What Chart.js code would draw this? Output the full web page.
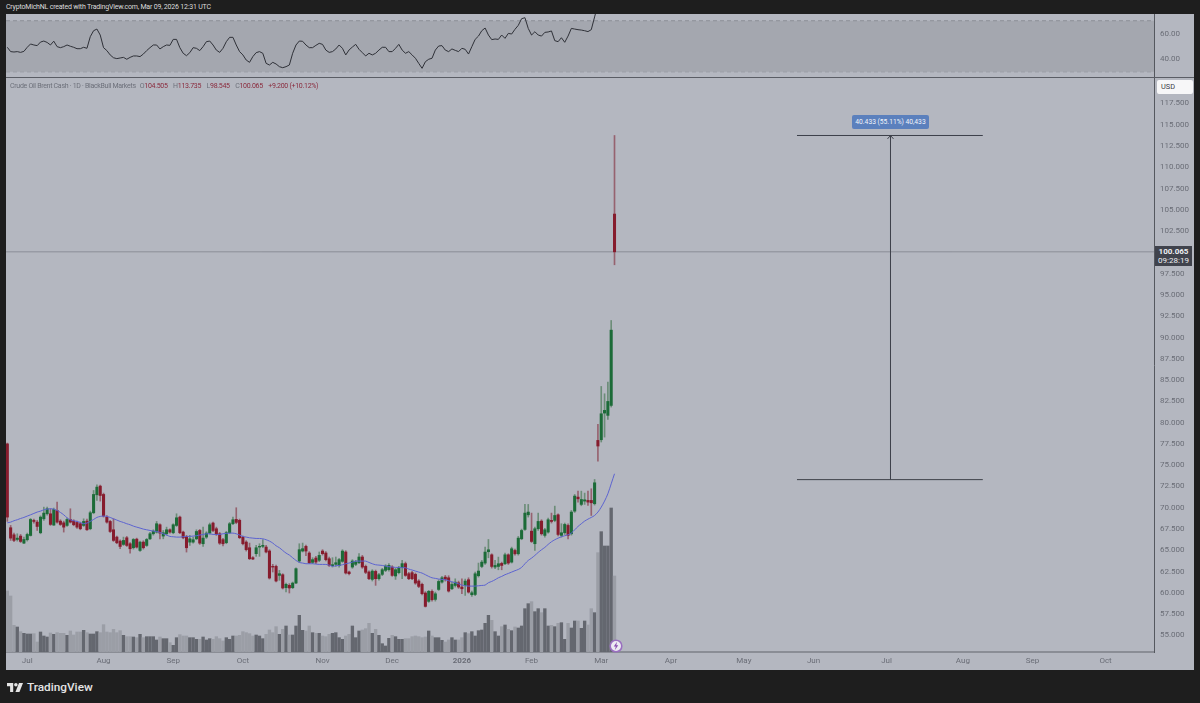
<!DOCTYPE html>
<html>
<head>
<meta charset="utf-8">
<title>Crude Oil Brent Cash</title>
<script src="https://cdn.jsdelivr.net/npm/chart.js@4/dist/chart.umd.min.js"></script>
<style>
html, body { margin: 0; padding: 0; width: 1200px; height: 703px; background: #1e1e1e; overflow: hidden; font-family: Roboto, sans-serif; }
#panel { position: absolute; left: 6px; top: 14px; width: 1188px; height: 656px; background: #b4b7c0; }
#sep { position: absolute; left: 6px; top: 77px; width: 1188px; height: 1px; background: #5a5d65; }
canvas { position: absolute; }
#rsiChart { left: 6px; top: 14px; }
#mainChart { left: 6px; top: 78px; }
.label { position: absolute; white-space: nowrap; }
#header { left: 6px; top: 2px; font-size: 7px; letter-spacing: -0.2px; line-height: 10px; color: #dcdcdc; }
#legend { left: 10px; top: 81px; font-size: 7px; letter-spacing: -0.3px; line-height: 10px; color: #6d707a; }
#legend b { font-weight: 400; color: #8a2b3d; }
#legend span { margin-left: 4px; }
#usd { left: 1157px; top: 80px; width: 32px; padding-left: 4px; height: 14px; line-height: 14px; background: #f7f7f8; border-radius: 2px; font-size: 7.4px; color: #3a3c44; }
#lastPrice { left: 1155px; top: 246px; width: 37px; height: 20px; background: #40434d; color: #eef0f3; font-size: 8px; line-height: 9.4px; text-align: center; padding-top: 1px; box-sizing: border-box; }
#lastPrice b { font-weight: 700; }
#measure { left: 852px; top: 115px; width: 77px; height: 14px; line-height: 14px; background: #5b80bd; border-radius: 2px; color: #f1f4fa; font-size: 6.7px; text-align: center; }
#brand { left: 27px; top: 677.5px; font-size: 11.8px; line-height: 18px; font-weight: 500; color: #e4e4e4; }
#logo { position: absolute; left: 7px; top: 682.5px; }
#flash { position: absolute; left: 609px; top: 639px; }
</style>
</head>
<body>
<div id="panel"></div>
<canvas id="rsiChart" width="1188" height="63"></canvas>
<div id="sep"></div>
<canvas id="mainChart" width="1188" height="592"></canvas>
<div class="label" id="header">CryptoMichNL created with TradingView.com, Mar 09, 2026 12:31 UTC</div>
<div class="label" id="legend">Crude Oil Brent Cash · 1D · BlackBull Markets<span>O<b>104.505</b></span> <span>H<b>113.735</b></span> <span>L<b>98.545</b></span> <span>C<b>100.065</b></span> <span><b>+9.200 (+10.12%)</b></span></div>
<div class="label" id="usd">USD</div>
<div class="label" id="lastPrice"><b>100.065</b><br>09:28:19</div>
<div class="label" id="measure">40.433 (55.11%) 40,433</div>
<svg id="logo" width="16" height="9" viewBox="0 0 36 20"><path fill="#e4e4e4" d="M0 0h14v20H7V7H0z"/><circle fill="#e4e4e4" cx="20" cy="4" r="4"/><path fill="#e4e4e4" d="M27 0h9l-8 20h-9z"/></svg>
<div class="label" id="brand">TradingView</div>
<svg id="flash" width="14" height="14" viewBox="0 0 14 14"><circle cx="7" cy="7" r="5.8" fill="#eceaf2" stroke="#9a6fc0" stroke-width="1.6"/><path d="M8 2.8 4.8 7.6h2l-1 3.6 3.4-5H7.3z" fill="#8a4db0"/></svg>

<script>
// daily bars, oldest first
var opens = [
    77.5,67.65,66.82,66.27,66.67,65.84,66.24,66.74,68.51,68.31,
    67.06,68.7,69.29,69.29,67.96,69.68,68.43,68.23,67.92,68.62,
    68.43,68.27,68.12,67.92,68.43,67.53,69.41,71.52,72.54,71.56,
    68.9,68.39,67.41,66.55,66.08,65.69,66.47,65.77,65.3,66.31,
    64.98,65.96,65.57,66.35,66.94,67.14,68,66.67,66.94,67.41,
    67.06,67.92,68.9,67.14,66.63,65.96,65.96,66.35,67.33,65.77,
    66.55,67.02,68.2,67.53,66.94,66.25,65.89,67.07,68.12,68.63,
    68.52,66.56,65.97,65.3,64.13,64.6,65.38,65.46,65.38,64.92,
    63.11,63.11,62.05,62.13,60.61,60.88,60.61,61.15,63.74,64.91,
    65.46,64.68,63.58,64.09,63.82,64.91,64.68,64.01,63.19,63.35,
    63.19,63.7,64.8,62.45,63.03,63.35,63.54,64.21,63.11,62.45,
    61.58,62.52,61.66,62.17,62.64,62.72,63.03,61.98,62.37,62.96,
    63.43,62.25,62.37,62.17,61.39,61,59.98,59,60.17,59.23,
    60.4,61.26,61.85,61.77,60.48,60.87,61.18,60.68,60.87,61.54,
    59.78,59.81,62.01,63.1,63.5,64.83,64.47,63.03,63.1,63.46,
    63.42,64.47,63.61,64.98,64.59,66.35,67.45,69.17,67.25,65.77,
    67.53,68.43,66.75,67.14,68.51,68.51,69.17,66.75,67.06,67.92,
    66.94,69.6,71.25,70.39,70.78,70.86,70.86,70.47,
    77.91,77.99,81.12,80.85,82.02,104.505
];
var highs = [
    77.6,67.92,67.02,66.94,66.86,66.55,67.02,68.74,68.66,68.51,
    69.05,70.07,70.07,69.88,69.96,70.66,68.59,68.43,68.78,69.88,
    68.59,68.43,68.31,68.7,68.66,69.6,72.03,72.7,72.66,71.72,
    69.09,68.51,68.7,66.67,66.24,66.55,66.63,65.92,66.39,66.43,
    66.08,66.12,66.39,67.1,67.41,68.39,68.12,67.33,67.72,67.53,
    68.12,69.29,69.02,67.25,66.75,66.75,66.55,67.41,67.45,67.72,
    67.18,68.2,68.31,67.72,67.1,66.4,67.22,68.28,68.91,70,
    68.67,66.67,66.13,65.85,64.25,65.58,65.77,66.25,65.58,65.07,
    63.35,63.27,62.64,62.25,61.15,61.08,61.27,62.95,65.77,65.85,
    65.62,64.84,64.13,64.29,64.8,65.07,64.84,64.21,64.13,64.21,
    64.05,65.07,64.95,62.56,63.9,63.82,64.6,64.4,63.27,62.6,
    62.72,62.68,62.29,62.88,63.31,63.43,63.19,62.88,63.11,63.82,
    63.62,62.41,62.52,62.33,61.55,61.15,60.14,60.29,60.36,60.09,
    61.54,61.93,62.05,62.01,61.26,61.65,61.38,61.65,61.62,61.77,
    60.21,62.44,63.5,63.81,65.37,66.27,64.59,63.81,64.2,63.61,
    64.67,64.59,65.37,65.14,66.63,67.49,70.39,70.39,69.37,67.72,
    69.37,68.59,67.57,68.78,69.37,70.19,69.29,68.12,68.2,68.12,
    69.68,71.56,71.95,71.95,71.72,71.95,72.23,73.32,
    79.79,84.25,83.39,84.76,92,113.735
];
var lows = [
    68.4,66.16,66,66.08,65.92,65.77,66.08,66.67,68.2,67.33,
    66.94,68.51,69.13,67.92,67.92,68.2,67.92,67.14,67.8,68.2,
    67.88,67.57,67.41,67.8,67.33,67.41,69.29,70.86,70.78,68.9,
    68.2,67.09,66.04,65.77,65.18,65.57,65.45,64.67,65.14,65.26,
    64.87,65.14,65.45,66.24,66.78,67.02,66.35,66.35,66.78,67.02,
    66.94,67.8,66.94,66.35,64.79,65.57,65.84,66.24,65.69,65.45,
    66.39,66.9,67.18,66.75,65.69,65.5,65.77,66.95,68,68.12,
    66.36,65.62,64.91,63.9,63.9,64.29,64.29,65.3,64.68,61.62,
    62.45,61.27,61.47,60.45,60.1,59.98,60.49,61.08,63.58,64.8,
    64.36,63.43,63.43,63.43,63.66,64.44,63.74,63.11,63.03,63.11,
    63.03,63.58,62.21,62.1,62.88,63.19,63.43,62.88,62.25,61.55,
    61.39,60.88,61.5,62.02,62.49,62.56,61.94,61.58,62.21,61.66,
    61.94,61.55,61.55,61,60.61,59.75,58.33,58.88,59.03,59.03,
    60.28,61.15,61.38,60.09,60.36,60.68,60.52,59.89,59.7,59.97,
    59.58,59.66,61.85,62.95,63.34,64.12,62.91,62.83,62.71,62.71,
    63.3,63.34,63.5,64.43,64.43,66.24,67.33,68.9,65.92,64.98,
    67.33,66.78,66.55,67.02,68.2,68.35,66.7,66.55,66.86,66.35,
    66.78,69.45,70.66,70.23,70.39,70.27,69.09,70.31,
    75.48,77.72,78.3,80.38,81.83,98.545
];
var closes = [
    68.9,66.43,66.16,66.43,66.04,66.27,66.86,68.62,68.39,67.8,
    68.9,69.37,69.88,68.04,69.8,68.31,68.04,67.72,68.62,68.31,
    68,67.72,67.53,68.39,67.41,69.41,71.56,72.42,71.44,69.02,
    68.31,67.21,66.16,65.88,65.45,66.16,65.57,65.18,66.27,65.37,
    65.96,65.3,66.27,66.94,67.25,68.12,67.02,67.06,67.41,67.14,
    68,68.82,67.06,66.47,65.3,66.35,66.24,67.21,65.84,66.43,
    67.02,68,67.33,66.86,65.84,65.77,67.07,68.12,68.59,68.28,
    66.48,65.77,65.07,64.01,63.97,65.3,65.46,65.58,64.8,61.74,
    63.03,61.39,62.25,60.57,61,60.57,61.15,62.84,65.07,65.19,
    64.91,63.54,63.9,63.62,64.4,64.6,63.9,63.23,63.31,63.54,
    63.9,64.91,62.33,62.25,63.74,63.62,64.21,63.03,62.41,61.66,
    62.56,61.66,62.13,62.72,63.15,63.23,62.05,62.72,62.96,63.43,
    62.05,61.66,61.66,61.15,60.76,59.9,58.41,60.18,59.19,59.89,
    61.34,61.77,61.58,60.21,60.99,61.26,60.68,60.48,61.38,60.09,
    60.01,62.24,62.56,63.61,64.79,65.06,63.1,63.22,63.42,63.22,
    64.47,63.5,65.18,64.59,66.43,67.33,69.37,69.49,66.04,67.53,
    68.39,66.94,67.41,68.59,68.39,69.09,66.86,67.06,68.04,66.75,
    69.49,71.37,71.05,70.97,70.93,70.66,70.58,72.93,
    77.25,81.04,81.44,82.49,90.865,100.065
];
var volumes = [
    183,168,80,75,61,56,54,54,55,30,
    60,48,45,57,53,58,56,56,50,63,
    51,60,60,65,58,54,54,61,58,82,
    60,58,68,58,64,50,46,46,45,43,
    53,43,46,46,46,36,45,40,40,28,
    20,43,52,48,48,43,43,38,38,45,
    36,40,38,46,40,33,43,38,48,48,
    50,61,58,55,48,51,48,40,53,66,
    58,76,53,68,78,51,51,78,110,65,
    63,78,58,56,56,48,46,53,56,58,
    43,38,48,53,78,43,63,66,70,86,
    56,68,50,25,18,41,50,46,38,38,
    40,40,46,48,46,43,45,63,48,43,
    43,35,30,36,43,36,36,43,58,55,
    61,48,64,66,86,110,95,61,48,76,
    81,68,64,75,72,78,130,145,151,121,
    130,118,130,78,80,76,86,88,38,86,
    72,93,93,71,93,81,130,118,
    298,361,318,318,432,228
];
var maValues = [
    68.23,68.31,68.47,68.59,68.74,68.86,69.02,69.17,69.33,69.49,
    69.6,69.76,69.84,69.88,69.84,69.68,69.45,69.17,68.82,68.59,
    68.47,68.39,68.27,68.12,68.2,68.39,68.62,68.86,68.98,69.02,
    68.98,68.86,68.7,68.55,68.39,68.27,68.12,68,67.84,67.72,
    67.61,67.49,67.41,67.33,67.25,67.21,67.1,66.94,66.79,66.63,
    66.59,66.55,66.55,66.59,66.63,66.63,66.67,66.71,66.79,66.86,
    66.94,66.94,66.86,66.86,66.86,66.94,66.98,67.02,67.02,66.94,
    66.79,66.63,66.55,66.47,66.43,66.39,66.39,66.35,66.24,66.08,
    65.85,65.53,65.3,64.98,64.67,64.44,64.12,63.81,63.57,63.5,
    63.42,63.42,63.42,63.38,63.34,63.34,63.34,63.26,63.11,63.18,
    63.22,63.3,63.42,63.5,63.61,63.73,63.73,63.73,63.73,63.57,
    63.42,63.3,63.26,63.22,63.14,63.07,63.03,62.99,62.99,62.95,
    62.95,62.79,62.68,62.56,62.44,62.32,62.13,61.93,61.77,61.7,
    61.62,61.58,61.54,61.42,61.3,61.19,61.07,60.91,60.83,60.79,
    60.79,60.79,60.83,60.87,60.91,61.19,61.34,61.54,61.77,61.93,
    62.13,62.28,62.44,62.6,62.75,62.99,63.42,63.81,64.08,64.4,
    64.75,65.06,65.34,65.69,66,66.24,66.43,66.59,66.71,66.82,
    67.02,67.41,67.8,68.12,68.43,68.66,68.86,69.09,69.49,70.07,
    70.78,71.64,72.81,73.99
];
var rsiValues = [
    49.2,45.8,45.5,45.8,45.2,46,49.2,51.8,51,50.5,
    53.3,54.1,53,51,54,49.7,48.9,49.7,51,50,
    49.2,48.1,48.1,49.2,48.4,57.5,62.2,63.5,58.8,48.9,
    46.6,43.2,41,40.3,40.8,41.3,39.8,41.3,42.4,42.4,
    41.9,43.9,46.6,48.9,51,51,47.9,49.7,51,50.7,
    55.4,55.4,48.9,44.5,42.6,45,48.9,48.4,46.6,49.7,
    53.6,54.1,51,47,45.2,48.4,53.6,57,57,51,
    45.8,43.2,39.2,37.4,41.9,45,45.8,44.5,36.6,35.3,
    37.4,36.1,34,33.2,34,35.3,44.5,51,54.1,53.9,
    51,48.9,48.9,50.7,52.3,51.5,47,45.2,45.8,47.9,
    51,48.4,43.2,47.1,49.4,51.5,47.6,45,42.4,44.5,
    43.2,44.5,47,49.2,49.2,45.8,45.8,48.4,51.5,47,
    44.5,45.8,43.2,40.6,36.6,32.7,37.9,39.8,40.6,47,
    50.2,50.5,47,45.8,47.9,46.8,45.8,48.4,47.6,43.9,
    49.7,55.4,58,62.2,64.3,58.8,55.2,55.7,55.4,58.8,
    56.2,60.1,59.6,63.3,66.4,71.6,72.4,64,58.8,61.4,
    58.8,58,60.9,61.2,62,54.4,53.6,56.7,53.1,58,
    64,63.5,63,62.7,62.2,61.5,63,73,83,80,
    78,82,86,80
];

var priceTicks = [55,57.5,60,62.5,65,67.5,70,72.5,75,77.5,80,82.5,85,87.5,90,92.5,95,97.5,100,102.5,105,107.5,110,112.5,115,117.5];
var rsiTicks = [40,60];
var rsiBands = [70,50,30];
var monthLabels = ["Jul","Aug","Sep","Oct","Nov","Dec","2026","Feb","Mar","Apr","May","Jun","Jul","Aug","Sep","Oct"];
var monthBars = [6,29,50,71,95,116,137,158,179,200,222,243,265,288,309,331];

// price range tool, x in bars
var measureLow = 73.302;
var measureHigh = 113.735;
var measureBars = [238,266.18,294];
var lastClose = 100.065;

const X_MIN = -0.4;
const X_MAX = 345.6;
const AXIS_WIDTH = 40;
const AXIS_COLOR = "#6a6d76";
const LINE_COLOR = "#55585f";
const DARK_LINE = "#3d4049";
const TICK_FONT = {family: "Roboto", size: 8};

Chart.defaults.font.family = "Roboto";

function isDown(i){
    return closes[i] < opens[i];
}

function bodyData(){
    return opens.map(function(o, i){
        return {x: i, y: [o, closes[i]]};
    });
}

function wickData(){
    return lows.map(function(l, i){
        return {x: i, y: [l, highs[i]]};
    });
}

function lineData(values){
    return values.map(function(v, i){
        return {x: i, y: v};
    });
}

// tick padding would otherwise push the plot in from the canvas edges
function fitYAxis(scale){
    scale.width = AXIS_WIDTH;
    scale.paddingTop = 0;
    scale.paddingBottom = 0;
}

function fitXAxis(scale){
    scale.height = 18;
    scale.paddingLeft = 0;
    scale.paddingRight = 0;
}

function drawMainChart(){
    const CHART = document.getElementById("mainChart");
    new Chart(CHART, {
        data: {
            datasets: [
                {
                    type: "bar", order: 6, yAxisID: "yVol", grouped: false, barThickness: 2.7, borderWidth: 0,
                    data: lineData(volumes),
                    backgroundColor: opens.map(function(o, i){ return isDown(i) ? "#9b9ea6" : "#64676f"; })
                },
                {
                    type: "bar", order: 4, grouped: false, barThickness: 1, borderWidth: 0,
                    data: wickData(),
                    backgroundColor: opens.map(function(o, i){ return isDown(i) ? "#96626f" : "#6c8d78"; })
                },
                {
                    type: "bar", order: 3, grouped: false, barThickness: 2.4, borderWidth: 0,
                    data: bodyData(),
                    backgroundColor: opens.map(function(o, i){ return isDown(i) ? "#861c2d" : "#1c6b38"; })
                },
                {
                    type: "line", order: 2, data: lineData(maValues),
                    borderColor: "#5c63d0", borderWidth: 1, pointRadius: 0, tension: 0.3
                },
                {
                    type: "line", order: 5,
                    data: [{x: X_MIN, y: lastClose}, {x: X_MAX, y: lastClose}],
                    borderColor: "#8b8e97", borderWidth: 1, pointRadius: 0
                },
                {
                    type: "line", order: 1,
                    data: [{x: measureBars[0], y: measureHigh}, {x: measureBars[2], y: measureHigh}],
                    borderColor: DARK_LINE, borderWidth: 1, pointRadius: 0
                },
                {
                    type: "line", order: 1,
                    data: [{x: measureBars[0], y: measureLow}, {x: measureBars[2], y: measureLow}],
                    borderColor: DARK_LINE, borderWidth: 1, pointRadius: 0
                },
                {
                    type: "line", order: 1,
                    data: [{x: measureBars[1], y: measureLow}, {x: measureBars[1], y: measureHigh}],
                    borderColor: DARK_LINE, borderWidth: 1, pointRadius: 0
                },
                {
                    // arrow head
                    type: "line", order: 1,
                    data: [
                        {x: measureBars[1] - 0.9, y: measureHigh - 0.4},
                        {x: measureBars[1], y: measureHigh},
                        {x: measureBars[1] + 0.9, y: measureHigh - 0.4}
                    ],
                    borderColor: DARK_LINE, borderWidth: 1, pointRadius: 0
                }
            ]
        },
        options: {
            responsive: false,
            animation: false,
            events: [],
            layout: {padding: 0},
            plugins: {legend: {display: false}, tooltip: {enabled: false}},
            scales: {
                x: {
                    type: "linear", min: X_MIN, max: X_MAX, offset: false,
                    grid: {display: false, drawTicks: false, offset: false},
                    border: {color: "#8a8d95", width: 2},
                    afterBuildTicks: function(scale){
                        scale.ticks = monthBars.map(function(v){ return {value: v}; });
                    },
                    afterFit: fitXAxis,
                    ticks: {
                        autoSkip: false, maxRotation: 0, padding: 4, color: AXIS_COLOR,
                        font: function(ctx){
                            return ctx.tick && ctx.tick.value === 137
                                ? {family: "Roboto", size: 8, weight: "700"}
                                : TICK_FONT;
                        },
                        callback: function(value){
                            return monthLabels[monthBars.indexOf(value)];
                        }
                    }
                },
                y: {
                    position: "right", min: 53.05, max: 120.49,
                    grid: {display: false, drawTicks: false},
                    border: {color: LINE_COLOR, width: 1},
                    afterBuildTicks: function(scale){
                        scale.ticks = priceTicks.map(function(v){ return {value: v}; });
                    },
                    afterFit: fitYAxis,
                    ticks: {
                        padding: 6, color: AXIS_COLOR, font: TICK_FONT,
                        callback: function(value){ return value.toFixed(3); }
                    }
                },
                yVol: {display: false, min: 0, max: 1722}
            }
        }
    });
}

function drawRsiChart(){
    const CHART = document.getElementById("rsiChart");
    var datasets = [
        {
            type: "line", data: lineData(rsiValues),
            borderColor: "#2f3138", borderWidth: 1, pointRadius: 0, tension: 0
        },
        {
            // shaded band between the upper and lower limits
            type: "line",
            data: [{x: X_MIN, y: rsiBands[0]}, {x: X_MAX, y: rsiBands[0]}],
            fill: {value: rsiBands[2]}, backgroundColor: "#a4a7af",
            borderColor: "#8b8e96", borderWidth: 1, borderDash: [4, 3], pointRadius: 0
        }
    ];
    rsiBands.slice(1).forEach(function(level){
        datasets.push({
            type: "line",
            data: [{x: X_MIN, y: level}, {x: X_MAX, y: level}],
            borderColor: "#8b8e96", borderWidth: 1, borderDash: [4, 3], pointRadius: 0
        });
    });
    new Chart(CHART, {
        data: {datasets: datasets},
        options: {
            responsive: false,
            animation: false,
            events: [],
            layout: {padding: 0},
            plugins: {legend: {display: false}, tooltip: {enabled: false}},
            scales: {
                x: {type: "linear", min: X_MIN, max: X_MAX, display: false},
                y: {
                    position: "right", min: 25.9, max: 75.3,
                    grid: {display: false, drawTicks: false},
                    border: {color: LINE_COLOR, width: 1},
                    afterBuildTicks: function(scale){
                        scale.ticks = rsiTicks.map(function(v){ return {value: v}; });
                    },
                    afterFit: fitYAxis,
                    ticks: {
                        padding: 6, color: AXIS_COLOR, font: TICK_FONT,
                        callback: function(value){ return value.toFixed(2); }
                    }
                }
            }
        }
    });
}

drawRsiChart();
drawMainChart();
</script>
</body>
</html>
